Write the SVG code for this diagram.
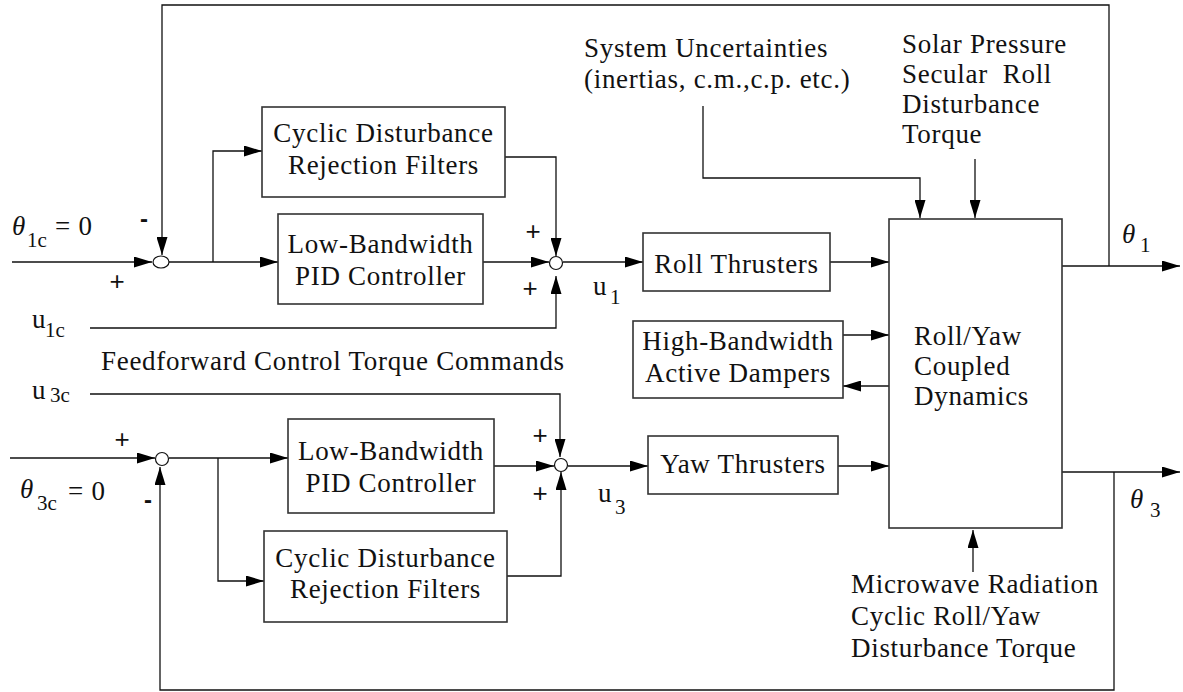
<svg xmlns="http://www.w3.org/2000/svg" width="1183" height="692" viewBox="0 0 1183 692">
<style>
text{font-family:"Liberation Serif","Times New Roman",serif;font-size:27px;fill:#111;letter-spacing:0.7px}
.c{text-anchor:middle}
.sub{font-size:21px;letter-spacing:0}
.th{font-style:italic;letter-spacing:0}
.pm{font-family:"Liberation Sans",Arial,sans-serif;font-size:26px;text-anchor:middle;letter-spacing:0}
.mn{font-family:"Liberation Sans",Arial,sans-serif;font-weight:bold;font-size:24px;text-anchor:middle;letter-spacing:0}
.box{fill:#fff;stroke:#333;stroke-width:1.6}
.sj{fill:#fff;stroke:#111;stroke-width:1.2}
#connectors path{fill:none;stroke:#111;stroke-width:1.3;marker-end:url(#arr)}
</style>
<defs>
<marker id="arr" markerUnits="userSpaceOnUse" markerWidth="18" markerHeight="11" refX="18" refY="5.5" orient="auto">
<path d="M0,0 L18,5.5 L0,11 z" fill="#000"/>
</marker>
</defs>
<rect width="1183" height="692" fill="#fff"/>

<g id="connectors">
<path d="M1062,266 H1180"/>
<path d="M1109,266 V5 H162 V255"/>
<path d="M12,262 H152"/>
<path d="M169,262 H278"/>
<path d="M213,262 V151 H262"/>
<path d="M505,157 H556 V256"/>
<path d="M483,262 H549"/>
<path d="M90,328 H556 V276"/>
<path d="M563,262 H643"/>
<path d="M830,262 H889"/>
<path d="M703,106 V178 H920 V218"/>
<path d="M975,159 V218"/>
<path d="M843,335 H889"/>
<path d="M889,386 H843"/>
<path d="M838,466 H889"/>
<path d="M1062,472 H1180"/>
<path d="M1114,472 V690 H160 V467"/>
<path d="M10,458 H155"/>
<path d="M169,458 H288"/>
<path d="M218,458 V581 H264"/>
<path d="M90,394 H560 V457"/>
<path d="M494,466 H554"/>
<path d="M507,576 H561 V472"/>
<path d="M568,466 H648"/>
<path d="M973,572 V530"/>
</g>

<g id="sum1"><ellipse class="sj" cx="161" cy="262" rx="8" ry="6"/></g>
<g id="sum2"><circle class="sj" cx="556" cy="263" r="6.5"/></g>
<g id="sum3"><circle class="sj" cx="162" cy="459" r="6.5"/></g>
<g id="sum4"><circle class="sj" cx="561" cy="465" r="6.5"/></g>

<g id="cyclic1"><rect class="box" x="262" y="107" width="243" height="90"/>
<text class="c" x="383.5" y="142">Cyclic Disturbance</text>
<text class="c" x="383.5" y="174">Rejection Filters</text></g>

<g id="pid1"><rect class="box" x="278" y="214" width="205" height="90"/>
<text class="c" x="380.5" y="253">Low-Bandwidth</text>
<text class="c" x="380.5" y="285">PID Controller</text></g>

<g id="roll"><rect class="box" x="643" y="233" width="187" height="58"/>
<text class="c" x="736.5" y="273">Roll Thrusters</text></g>

<g id="dampers"><rect class="box" x="633" y="321" width="210" height="77"/>
<text class="c" x="738" y="350">High-Bandwidth</text>
<text class="c" x="738" y="382">Active Dampers</text></g>

<g id="yaw"><rect class="box" x="648" y="436" width="190" height="58"/>
<text class="c" x="743" y="473">Yaw Thrusters</text></g>

<g id="pid2"><rect class="box" x="288" y="419" width="206" height="94"/>
<text class="c" x="391" y="460">Low-Bandwidth</text>
<text class="c" x="391" y="492">PID Controller</text></g>

<g id="cyclic2"><rect class="box" x="264" y="531" width="243" height="91"/>
<text class="c" x="385.5" y="567">Cyclic Disturbance</text>
<text class="c" x="385.5" y="598">Rejection Filters</text></g>

<g id="dynamics"><rect class="box" x="889" y="219" width="173" height="309"/>
<text x="914" y="345">Roll/Yaw</text>
<text x="914" y="375">Coupled</text>
<text x="914" y="405">Dynamics</text></g>

<g id="uncertainties">
<text x="584" y="57">System Uncertainties</text>
<text x="584" y="88">(inertias, c.m.,c.p. etc.)</text></g>

<g id="solar">
<text x="902" y="53">Solar Pressure</text>
<text x="902" y="83" xml:space="preserve">Secular  Roll</text>
<text x="902" y="113">Disturbance</text>
<text x="902" y="143">Torque</text></g>

<g id="microwave">
<text x="851" y="593">Microwave Radiation</text>
<text x="851" y="625">Cyclic Roll/Yaw</text>
<text x="851" y="657">Disturbance Torque</text></g>

<g id="labels">
<text class="th" x="12" y="235">θ</text><text class="sub" x="27" y="247">1c</text><text x="55" y="235">= 0</text>
<text class="mn" x="144" y="227">-</text>
<text class="pm" x="117" y="290">+</text>
<text x="32" y="328">u</text><text class="sub" x="45" y="337">1c</text>
<text x="101" y="370">Feedforward Control Torque Commands</text>
<text x="32" y="399">u</text><text class="sub" x="50" y="402">3c</text>
<text class="pm" x="122" y="448">+</text>
<text class="th" x="20" y="498">θ</text><text class="sub" x="37" y="510">3c</text><text x="68" y="500">= 0</text>
<text class="mn" x="148" y="508">-</text>
<text class="pm" x="533" y="240">+</text>
<text class="pm" x="530" y="297">+</text>
<text x="593" y="295">u</text><text class="sub" x="610" y="304">1</text>
<text class="pm" x="540" y="444">+</text>
<text class="pm" x="540" y="502">+</text>
<text x="598" y="502">u</text><text class="sub" x="615" y="514">3</text>
<text class="th" x="1122" y="243">θ</text><text class="sub" x="1140" y="252">1</text>
<text class="th" x="1130" y="508">θ</text><text class="sub" x="1150" y="517">3</text>
</g>
</svg>
